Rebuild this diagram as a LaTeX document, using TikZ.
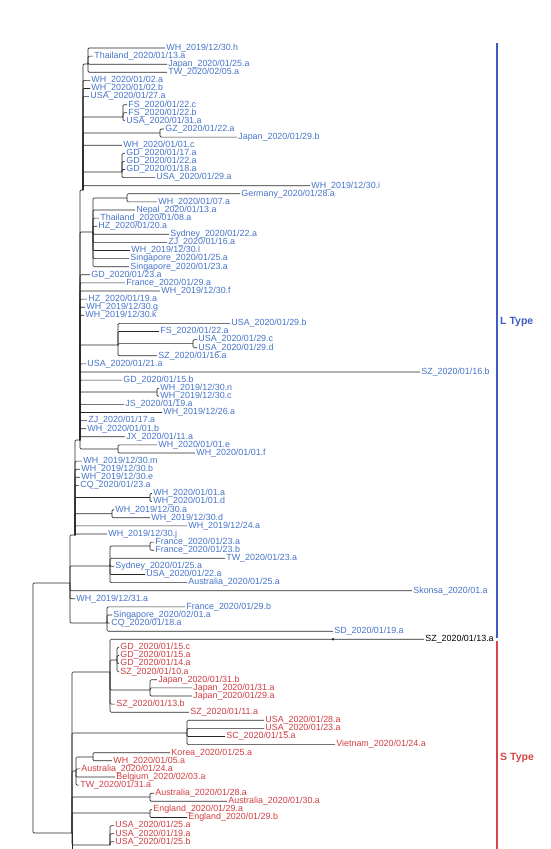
\documentclass[tikz,border=0pt]{standalone}
\usepackage{fontspec}
\setmainfont{Liberation Sans}
\definecolor{ltblue}{RGB}{70,115,200}
\definecolor{stred}{RGB}{206,62,66}
\definecolor{barblue}{RGB}{62,92,192}
\definecolor{barred}{RGB}{214,70,70}
\tikzset{
  branch/.style={line width=0.65pt, black!85, rounded corners=1.2pt},
  leafL/.style={anchor=west, inner xsep=1.2pt, inner ysep=0pt, text=ltblue, font=\fontsize{8.9}{9}\selectfont},
  leafS/.style={leafL, text=stred},
  leafX/.style={leafL, text=black},
  typelabel/.style={anchor=west, inner sep=0pt, font=\fontsize{10.5}{11}\bfseries}
}
\begin{document}
\begin{tikzpicture}[x=1pt, y=-1pt]
\useasboundingbox (0,0) rectangle (550,849);
\clip (0,0) rectangle (550,849);

% leaf tips and labels
\foreach \i/\x/\t in {1/165/{WH\_2019/12/30.h}, 2/93/{Thailand\_2020/01/13.a}, 3/167/{Japan\_2020/01/25.a},
  4/167/{TW\_2020/02/05.a}, 5/90/{WH\_2020/01/02.a}, 6/90/{WH\_2020/01/02.b}, 7/89/{USA\_2020/01/27.a},
  8/127/{FS\_2020/01/22.c}, 9/127/{FS\_2020/01/22.b}, 10/125/{USA\_2020/01/31.a}, 11/164/{GZ\_2020/01/22.a},
  12/237/{Japan\_2020/01/29.b}, 13/122/{WH\_2020/01/01.c}, 14/125/{GD\_2020/01/17.a}, 15/125/{GD\_2020/01/22.a},
  16/125/{GD\_2020/01/18.a}, 17/155/{USA\_2020/01/29.a}, 18/310/{WH\_2019/12/30.i}, 19/240/{Germany\_2020/01/28.a},
  20/157/{WH\_2020/01/07.a}, 21/135/{Nepal\_2020/01/13.a}, 22/99/{Thailand\_2020/01/08.a}, 23/97/{HZ\_2020/01/20.a},
  24/169/{Sydney\_2020/01/22.a}, 25/167/{ZJ\_2020/01/16.a}, 26/130/{WH\_2019/12/30.l}, 27/129/{Singapore\_2020/01/25.a},
  28/129/{Singapore\_2020/01/23.a}, 29/90/{GD\_2020/01/23.a}, 30/125/{France\_2020/01/29.a}, 31/160/{WH\_2019/12/30.f},
  32/87/{HZ\_2020/01/19.a}, 33/85/{WH\_2019/12/30.g}, 34/84/{WH\_2019/12/30.k}, 35/230/{USA\_2020/01/29.b},
  36/159/{FS\_2020/01/22.a}, 37/197/{USA\_2020/01/29.c}, 38/197/{USA\_2020/01/29.d}, 39/157/{SZ\_2020/01/16.a},
  40/86/{USA\_2020/01/21.a}, 41/420/{SZ\_2020/01/16.b}, 42/122/{GD\_2020/01/15.b}, 43/159/{WH\_2019/12/30.n},
  44/159/{WH\_2019/12/30.c}, 45/124/{JS\_2020/01/19.a}, 46/162/{WH\_2019/12/26.a}, 47/87/{ZJ\_2020/01/17.a},
  48/86/{WH\_2020/01/01.b}, 49/125/{JX\_2020/01/11.a}, 50/157/{WH\_2020/01/01.e}, 51/195/{WH\_2020/01/01.f},
  52/82/{WH\_2019/12/30.m}, 53/80/{WH\_2019/12/30.b}, 54/80/{WH\_2019/12/30.e}, 55/79/{CQ\_2020/01/23.a},
  56/152/{WH\_2020/01/01.a}, 57/152/{WH\_2020/01/01.d}, 58/114/{WH\_2019/12/30.a}, 59/150/{WH\_2019/12/30.d},
  60/187/{WH\_2019/12/24.a}, 61/107/{WH\_2019/12/30.j}, 62/154/{France\_2020/01/23.a}, 63/154/{France\_2020/01/23.b},
  64/225/{TW\_2020/01/23.a}, 65/114/{Sydney\_2020/01/25.a}, 66/145/{USA\_2020/01/22.a}, 67/187/{Australia\_2020/01/25.a},
  68/412/{Skonsa\_2020/01.a}, 69/75/{WH\_2019/12/31.a}, 70/185/{France\_2020/01/29.b}, 71/112/{Singapore\_2020/02/01.a},
  72/110/{CQ\_2020/01/18.a}, 73/333/{SD\_2020/01/19.a}}
{
  \coordinate (t\i) at (\x, {48+(\i-1)*8.1});
  \node[leafL] (l\i) at (t\i) {\t};
}
\coordinate (t74) at (424, {48+73*8.1});
\node[leafX] (l74) at (t74) {SZ\_2020/01/13.a};
\foreach \i/\x/\t in {75/119/{GD\_2020/01/15.c}, 76/119/{GD\_2020/01/15.a}, 77/119/{GD\_2020/01/14.a},
  78/119/{SZ\_2020/01/10.a}, 79/157/{Japan\_2020/01/31.b}, 80/192/{Japan\_2020/01/31.a}, 81/192/{Japan\_2020/01/29.a},
  82/115/{SZ\_2020/01/13.b}, 83/189/{SZ\_2020/01/11.a}, 84/264/{USA\_2020/01/28.a}, 85/264/{USA\_2020/01/23.a},
  86/225/{SC\_2020/01/15.a}, 87/335/{Vietnam\_2020/01/24.a}, 88/170/{Korea\_2020/01/25.a}, 89/112/{WH\_2020/01/05.a},
  90/80/{Australia\_2020/01/24.a}, 91/115/{Belgium\_2020/02/03.a}, 92/79/{TW\_2020/01/31.a},
  93/154/{Australia\_2020/01/28.a}, 94/227/{Australia\_2020/01/30.a}, 95/152/{England\_2020/01/29.a},
  96/187/{England\_2020/01/29.b}, 97/114/{USA\_2020/01/25.a}, 98/114/{USA\_2020/01/19.a}, 99/114/{USA\_2020/01/25.b}}
{
  \coordinate (t\i) at (\x, {48+(\i-1)*8.1});
  \node[leafS] (l\i) at (t\i) {\t};
}

% internal nodes
\coordinate (nR) at (33, 708);
\coordinate (nL) at (70, 583);
\coordinate (nB) at (75, 535);
\coordinate (nC) at (80, 440);
\coordinate (nD) at (83, 190);
\coordinate (nD1) at (88, 64);
\coordinate (nD2) at (123, 117);
\coordinate (nD3) at (160, 133);
\coordinate (nD4) at (122, 172);
\coordinate (nC1) at (93, 232);
\coordinate (nC2) at (127, 198);
\coordinate (nC3) at (118, 345);
\coordinate (nC4) at (193, 343.6);
\coordinate (nC6) at (157, 392);
\coordinate (nC9) at (118, 449);
\coordinate (nB1) at (150, 497.5);
\coordinate (nB2) at (112, 513.7);
\coordinate (nL1) at (110, 566);
\coordinate (nL2) at (150, 546);
\coordinate (nL3) at (107, 623);
\coordinate (nS) at (72, 833);
\coordinate (nS1) at (110, 672);
\coordinate (nS2) at (117, 660);
\coordinate (nS3) at (150, 690);
\coordinate (nS4) at (187, 733);
\coordinate (nS5) at (76, 771);
\coordinate (nS6) at (93, 757);
\coordinate (nS7) at (150, 797);
\coordinate (nS8) at (150, 813);
\coordinate (nS9) at (110, 845);
\coordinate (sEnd) at (72, 860);

% branches
\draw[branch] (nR) |- (nL);
\draw[branch] (nR) |- (nS);
\foreach \c in {nB, nL1, t68, t69, nL3} \draw[branch] (nL) |- (\c);
\foreach \c in {nC, t52, t53, t54, t55, nB1, nB2, t60, t61} \draw[branch] (nB) |- (\c);
\foreach \c in {nD, nC1, t29, t30, t31, t32, t33, t34, nC3, t40, t41, t42, nC6, t45, t46, t47, t48, t49, nC9}
  \draw[branch] (nC) |- (\c);
\foreach \c in {nD1, t5, t6, t7, nD2, nD3, t13, nD4, t18} \draw[branch] (nD) |- (\c);
\foreach \c in {1,2,3,4} \draw[branch] (nD1) |- (t\c);
\foreach \c in {8,9,10} \draw[branch] (nD2) |- (t\c);
\foreach \c in {11,12} \draw[branch] (nD3) |- (t\c);
\foreach \c in {14,15,16,17} \draw[branch] (nD4) |- (t\c);
\foreach \c in {nC2, t21, t22, t23, t24, t25, t26, t27, t28} \draw[branch] (nC1) |- (\c);
\foreach \c in {19,20} \draw[branch] (nC2) |- (t\c);
\foreach \c in {t35, t36, nC4, t39} \draw[branch] (nC3) |- (\c);
\foreach \c in {37,38} \draw[branch] (nC4) |- (t\c);
\foreach \c in {43,44} \draw[branch] (nC6) |- (t\c);
\foreach \c in {50,51} \draw[branch] (nC9) |- (t\c);
\foreach \c in {56,57} \draw[branch] (nB1) |- (t\c);
\foreach \c in {58,59} \draw[branch] (nB2) |- (t\c);
\foreach \c in {nL2, t64, t65, t66, t67} \draw[branch] (nL1) |- (\c);
\foreach \c in {62,63} \draw[branch] (nL2) |- (t\c);
\foreach \c in {70,71,72,73} \draw[branch] (nL3) |- (t\c);
% S type clade
\foreach \c in {nS1, nS4, nS5, nS7, nS8, nS9} \draw[branch] (nS) |- (\c);
\draw[branch] (nS) -- (sEnd);
\foreach \c in {t74, nS2, nS3, t82, t83} \draw[branch] (nS1) |- (\c);
\foreach \c in {75,76,77,78} \draw[branch] (nS2) |- (t\c);
\foreach \c in {79,80,81} \draw[branch] (nS3) |- (t\c);
\foreach \c in {84,85,86,87} \draw[branch] (nS4) |- (t\c);
\foreach \c in {nS6, t90, t91, t92} \draw[branch] (nS5) |- (\c);
\foreach \c in {88,89} \draw[branch] (nS6) |- (t\c);
\foreach \c in {93,94} \draw[branch] (nS7) |- (t\c);
\foreach \c in {95,96} \draw[branch] (nS8) |- (t\c);
\foreach \c in {97,98,99} \draw[branch] (nS9) |- (t\c);
\coordinate (dotSZ) at (333, {48+73*8.1});
\fill[black!85] (dotSZ) circle (1.4pt);

% type bars
\coordinate (Ltop) at (497, 43);
\coordinate (Lbot) at (497, 638);
\coordinate (Stop) at (497, 641);
\coordinate (Sbot) at (497, 849);
\draw[barblue, line width=1.3pt] (Ltop) -- (Lbot);
\draw[barred, line width=1.3pt] (Stop) -- (Sbot);
\node[typelabel, text=barblue] (Ltype) at (500, 322) {L Type};
\node[typelabel, text=barred] (Stype) at (500, 758) {S Type};
\end{tikzpicture}
\end{document}
